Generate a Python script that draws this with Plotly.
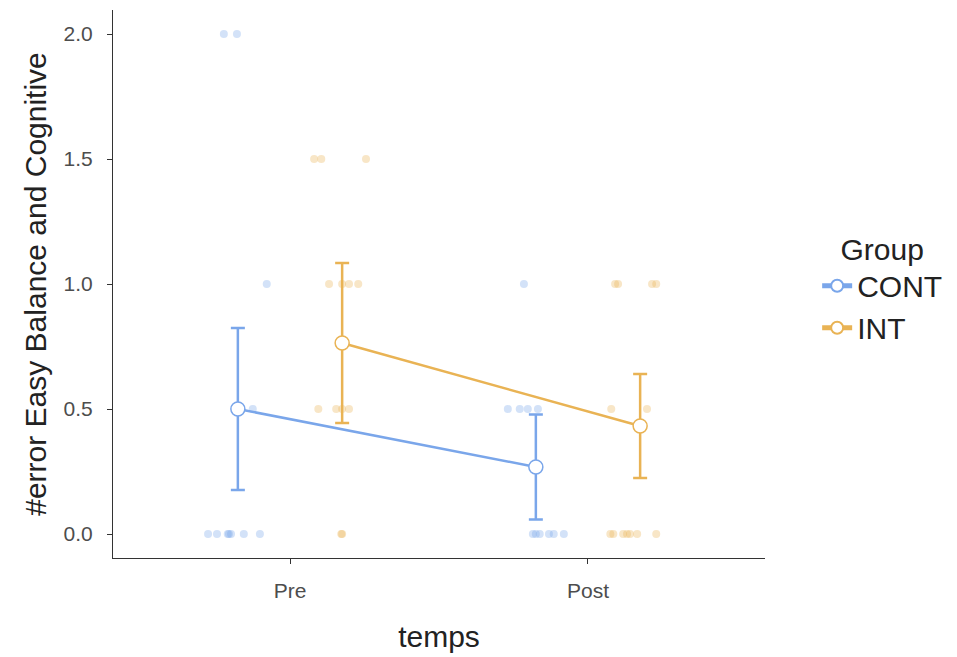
import plotly.graph_objects as go

# ---- data ----
times = ["Pre", "Post"]
groups = ["CONT", "INT"]
colors = {"CONT": "#7aa6ea", "INT": "#e9b354"}

# individual observations (value, jitter offset in category units)
cont_pre_vals = [2.0, 2.0, 1.0, 0.5, 0, 0, 0, 0, 0, 0, 0]
cont_pre_jit = [-0.047, -0.003, 0.097, 0.050, -0.10, -0.07, -0.034, -0.023, -0.03, 0.02, 0.074]
cont_post_vals = [1.0, 0.5, 0.5, 0.5, 0.5, 0, 0, 0, 0, 0, 0]
cont_post_jit = [-0.04, -0.094, -0.054, -0.027, 0.007, -0.01, 0.0, 0.013, 0.044, 0.06, 0.094]
int_pre_vals = [1.5, 1.5, 1.5, 1.0, 1.0, 1.0, 1.0, 0.5, 0.5, 0.5, 0.5, 0, 0]
int_pre_jit = [-0.094, -0.07, 0.08, -0.044, 0.0, 0.023, 0.054, -0.08, -0.02, 0.0, 0.023, -0.003, 0.0]
int_post_vals = [1.0, 1.0, 1.0, 1.0, 0.5, 0.5, 0, 0, 0, 0, 0, 0, 0]
int_post_jit = [-0.084, -0.074, 0.04, 0.054, -0.097, 0.023, -0.10, -0.09, -0.057, -0.044, -0.034, -0.01, 0.054]

# summary (mean and error half-width), Pre / Post
cont_mean = [0.50, 0.268]
cont_err = [0.324, 0.21]
int_mean = [0.764, 0.432]
int_err = [0.32, 0.208]

dodge = {"CONT": -0.175, "INT": 0.175}

fig = go.Figure()

raw = {
    "CONT": [(cont_pre_vals, cont_pre_jit), (cont_post_vals, cont_post_jit)],
    "INT": [(int_pre_vals, int_pre_jit), (int_post_vals, int_post_jit)],
}
for g in groups:
    for ti, (vals, jit) in enumerate(raw[g]):
        xs = [ti + 1 + dodge[g] + j for j in jit]
        fig.add_trace(go.Scatter(
            x=xs, y=vals, mode="markers", showlegend=False, hoverinfo="skip",
            marker=dict(size=8, color=colors[g], opacity=0.33, line=dict(width=0)),
        ))

summ = {"CONT": (cont_mean, cont_err), "INT": (int_mean, int_err)}
for g in groups:
    m, e = summ[g]
    xs = [i + 1 + dodge[g] for i in range(len(times))]
    fig.add_trace(go.Scatter(
        x=xs, y=m, mode="lines+markers", name=g,
        line=dict(color=colors[g], width=2.5),
        error_y=dict(type="data", array=e, visible=True, color=colors[g], thickness=2.5, width=7),
        marker=dict(size=14, color="white", line=dict(color=colors[g], width=1.5)),
    ))

FONT = "Arial, Liberation Sans, sans-serif"
axis_font = dict(family=FONT, size=21, color="#4d4d4d")
title_font = dict(family=FONT, size=30, color="#222222")
fig.update_layout(
    width=949, height=649,
    margin=dict(l=105, r=192, t=2, b=99),
    paper_bgcolor="white", plot_bgcolor="white",
    font=dict(family=FONT, color="#222222"),
    xaxis=dict(
        range=[0.406, 2.594], tickvals=[1, 2], ticktext=times,
        showline=True, linecolor="#333333", linewidth=1.2, showgrid=False, zeroline=False,
        ticks="outside", ticklen=5, tickcolor="#333333", tickfont=axis_font,
        ticklabelstandoff=9,
        title=dict(text="temps", font=title_font, standoff=24),
    ),
    yaxis=dict(
        range=[-0.096, 2.096], tickvals=[0, 0.5, 1.0, 1.5, 2.0], tickformat=".1f",
        showline=True, linecolor="#333333", linewidth=1.2, showgrid=False, zeroline=False,
        ticks="outside", ticklen=5, tickcolor="#333333", tickfont=axis_font,
        ticklabelstandoff=10,
        title=dict(text="#error Easy Balance and Cognitive", font=title_font, standoff=7),
    ),
    legend=dict(
        x=1.08, y=0.494, xanchor="left", yanchor="middle",
        title=dict(text="Group", font=title_font, side="top center"),
        font=title_font, itemsizing="constant",
        bgcolor="rgba(0,0,0,0)", tracegroupgap=0,
    ),
)

fig.write_html("out.html")
